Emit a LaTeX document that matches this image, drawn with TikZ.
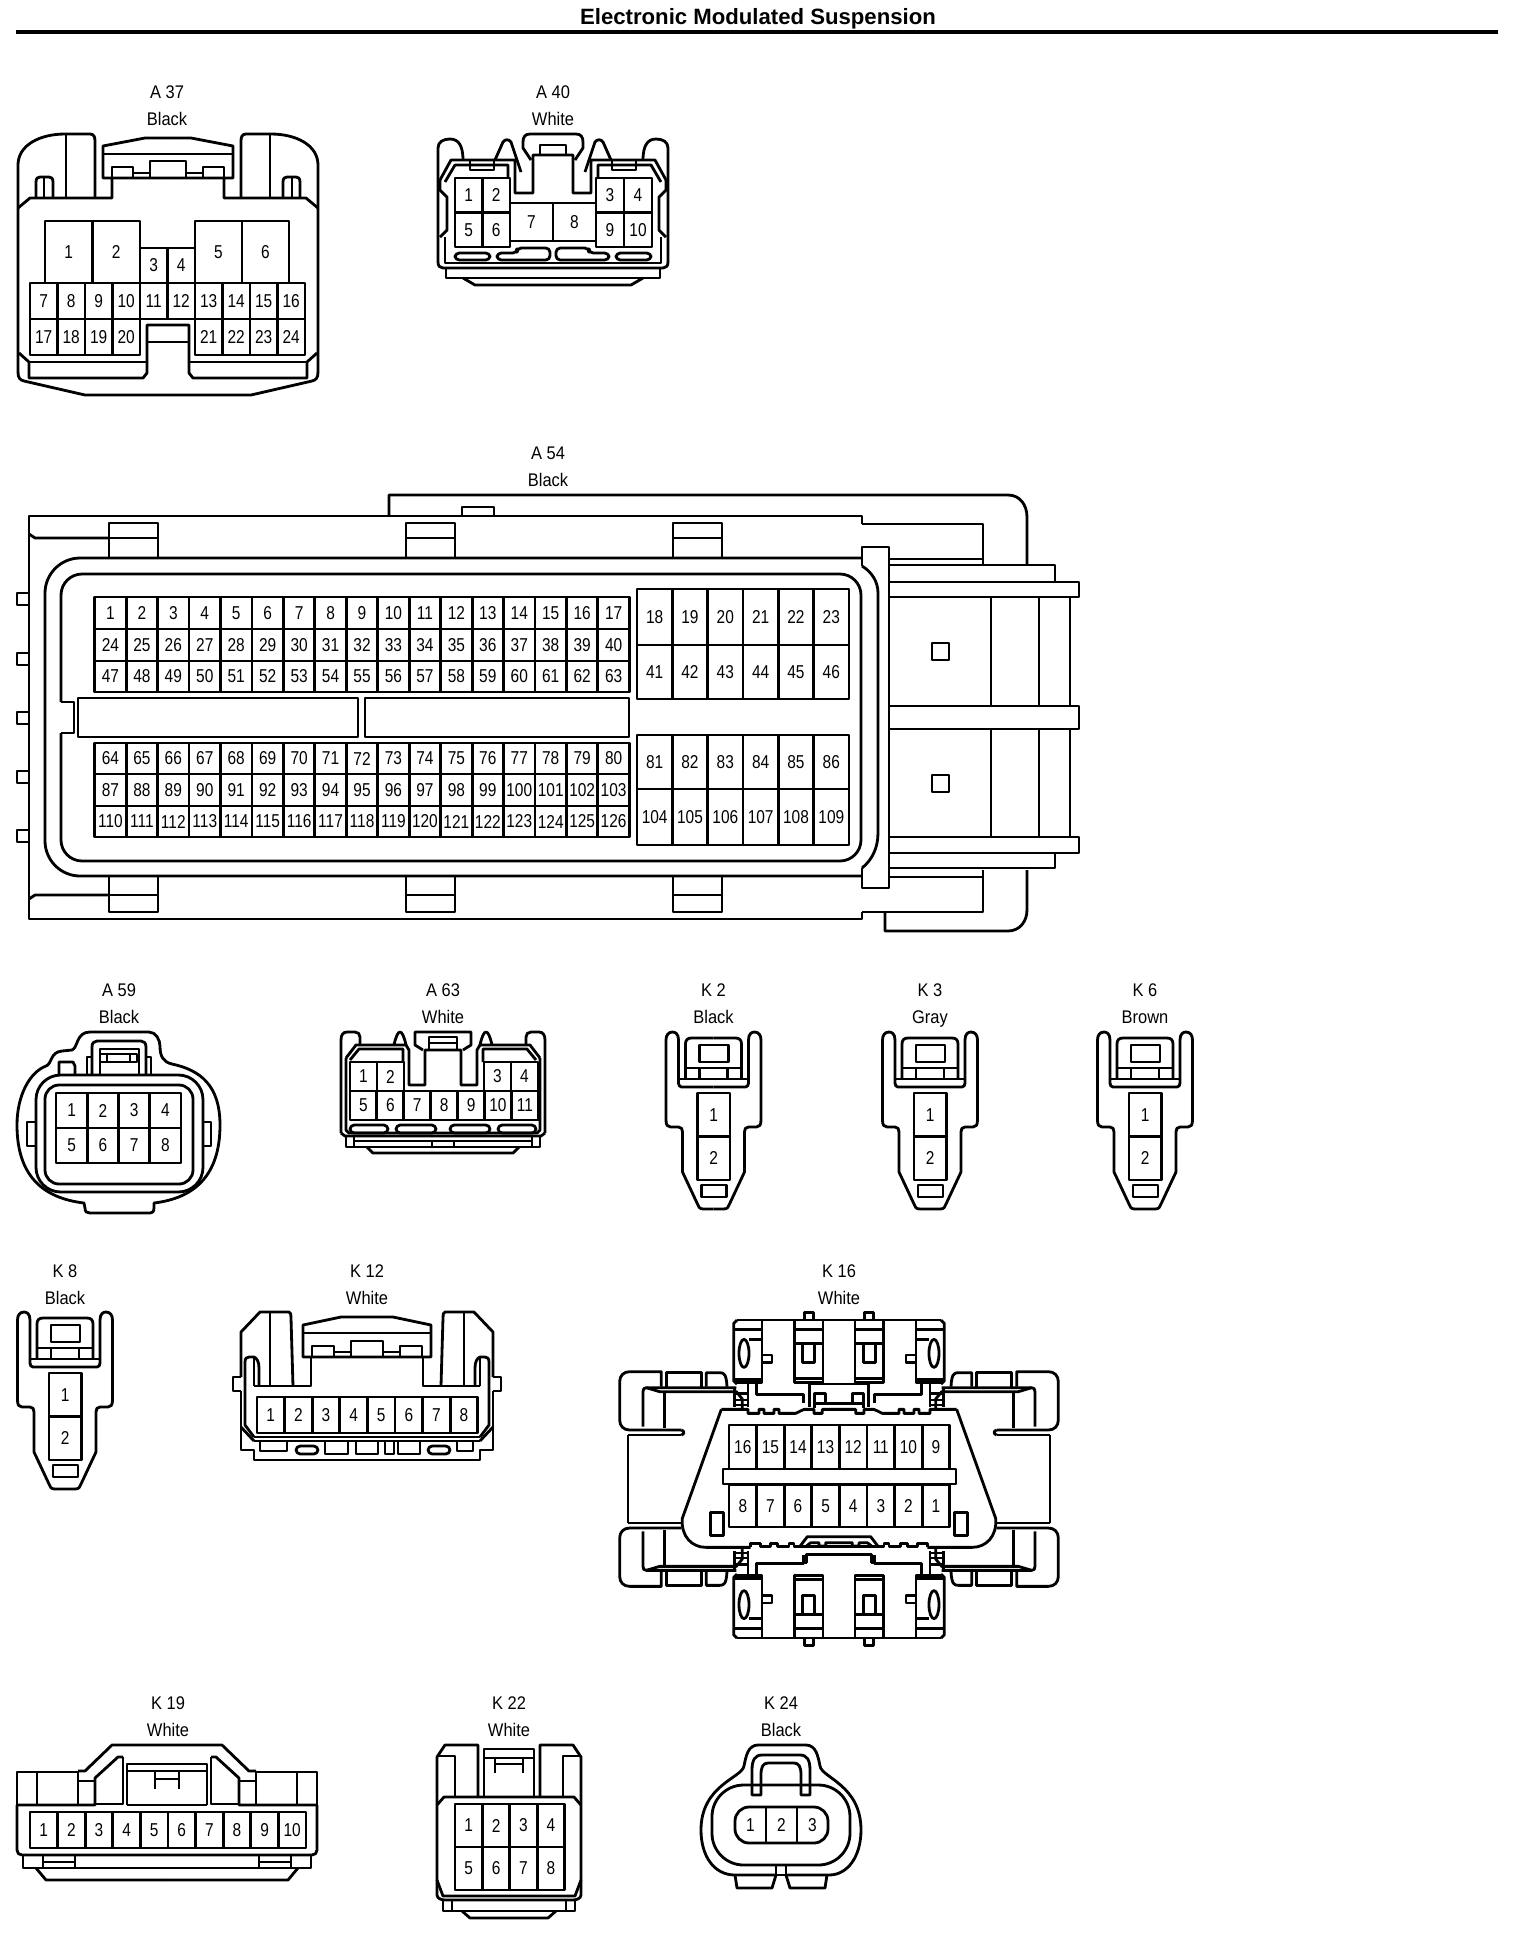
\documentclass[tikz,border=0pt]{standalone}
\usepackage{fontspec}
\setmainfont{Liberation Sans}
\newfontfamily\pinfont[FakeStretch=0.83]{Liberation Sans}
\newfontfamily\namefont[FakeStretch=0.9]{Liberation Sans}
\tikzset{
  pin/.style={draw,inner sep=0pt,outer sep=0pt,font=\pinfont\fontsize{5.3pt}{6pt}\selectfont},
  conname/.style={inner sep=0pt,text height=4.5pt,text depth=1pt,font=\namefont\fontsize{5.2pt}{6pt}\selectfont},
  slot/.style={rounded corners=1.2pt},
}
% row of pins: prefix, left, top, cell width, cell height, labels
\newcommand{\pinrow}[6]{%
  \foreach \p [count=\i] in {#6} {
    \node[pin,minimum width=#4*0.01cm,minimum height=#5*0.01cm] (#1\p) at ({#2+(\i-0.5)*#4},{#3+0.5*#5}) {\p};
  }}
% connector name and colour
\newcommand{\conhead}[5]{%
  \node[conname] (#1name) at (#2,#3) {#4};
  \node[conname] (#1col) at (#2,#3+27) {#5};}
\tikzset{
  twoway/.pic={
    \foreach \m in {1,-1} {
      \begin{scope}[xscale=\m]
        \draw (-35,47) -- (-35,8) .. controls (-35,2) and (-38,0) .. (-41,0) .. controls (-45,0) and (-47.5,3) .. (-47.5,8)
          -- (-47.5,88) .. controls (-47.5,93) and (-46,95) .. (-43,95) -- (-35,95) .. controls (-32,95) and (-31,97) .. (-31,100)
          -- (-31,140) -- (-16,172) .. controls (-15,175) and (-14,177) .. (-10,177) -- (0,177);
        \draw (-28,47) -- (-28,12) .. controls (-28,8) and (-26,6) .. (-22,6) -- (0,6);
        \draw (-14,36) -- (-14,47);
        \draw (-35,47) -- (-35,51) .. controls (-35,53) and (-34,55) .. (-32,55) -- (0,55);
      \end{scope}
    }
    \draw (-28,36) -- (28,36);
    \draw (-35,47) -- (35,47);
    \draw (-14,13) rectangle (15,30);
    \draw (-12,153) rectangle (13,165);
    \pinrow{p}{-16}{61}{32.5}{43.5}{1}
    \pinrow{p}{-16}{104.5}{32.5}{43.5}{2}
  }
}
\begin{document}
\begin{tikzpicture}[x=0.01cm,y=-0.01cm,line width=0.8pt,line join=round]
\useasboundingbox (0,0) rectangle (1520,1938);

\node[inner sep=0pt,font=\bfseries\fontsize{6.3pt}{7pt}\selectfont] (title) at (758,19) {Electronic Modulated Suspension};
\coordinate (rulel) at (16,32);
\coordinate (ruler) at (1498,32);
\draw[line width=1.15pt] (rulel) -- (ruler);

% A37
\conhead{a37}{167}{92}{A 37}{Black}
\foreach \m in {1,-1} {
  \begin{scope}[shift={(168,0)},xscale=\m]
    \draw (-150,372) -- (-150,165) .. controls (-150,145) and (-128,134) .. (-103,134) -- (-78,134) .. controls (-74,134) and (-73,137) .. (-73,141) -- (-73,198);
    \draw (-102,134) -- (-102,198);
    \draw (-150,208) -- (-138,198) -- (-56,198) -- (-56,178);
    \draw (-132,198) -- (-132,182) .. controls (-132,178) and (-130,177) .. (-128,177) -- (-119,177) .. controls (-117,177) and (-115,178) .. (-115,182) -- (-115,198);
    \draw (-124,177) -- (-124,198);
    \draw (0,138) -- (-23,138) -- (-65,146) -- (-65,178) -- (0,178);
    \draw (-65,154) -- (0,154);
    \draw (-56,178) -- (-56,167) -- (-35,167) -- (-35,178);
    \draw (-35,173) -- (-18,173);
    \draw (-18,178) -- (-18,161) -- (0,161);
    \draw (-150,372) .. controls (-150,378) and (-148,380) .. (-144,381) -- (-83,395) -- (0,395);
    \draw (-149,353) -- (-139,362) -- (-139,378) -- (-25,378) -- (-21,373) -- (-21,325) -- (0,325);
    \draw (-139,362) -- (-21,362);
    \draw (-21,342) -- (0,342);
  \end{scope}
}
\pinrow{a37p}{45}{221}{47.5}{62}{1,2}
\pinrow{a37p}{195}{221}{47}{62}{5,6}
\pinrow{a37p}{140}{248}{27.5}{35}{3,4}
\pinrow{a37p}{30}{283}{27.5}{36}{7,8,9,10,11,12,13,14,15,16}
\pinrow{a37p}{30}{319}{27.5}{36}{17,18,19,20}
\pinrow{a37p}{195}{319}{27.5}{36}{21,22,23,24}

% A40
\conhead{a40}{553}{92}{A 40}{White}
\foreach \m in {1,-1} {
  \begin{scope}[shift={(553,0)},xscale=\m]
    \draw (-115,262) -- (-115,148) .. controls (-115,142) and (-110,139) .. (-103,139) .. controls (-95,139) and (-90,145) .. (-90,160);
    \draw (-58,160) -- (-50,142) .. controls (-48,139) and (-44,139) .. (-42,142) -- (-32,172);
    \draw (-113,180) -- (-102,160) -- (-38,160) -- (-38,193) -- (-20,193) -- (-20,155) -- (0,155);
    \draw (-108,182) -- (-98,165) -- (-45,165) -- (-45,178);
    \draw (-83,160) -- (-83,170) -- (-59,170) -- (-59,160);
    \draw (0,134) -- (-23,134) .. controls (-28,134) and (-30,137) .. (-30,142) -- (-30,148) -- (-22,160);
    \draw (-13,155) -- (-13,145) -- (0,145);
    \draw (-113,180) -- (-113,190) -- (-106,197) -- (-106,230) -- (-113,237);
    \draw (-108,237) -- (-108,263) -- (0,263);
    \draw (-115,262) .. controls (-115,266) and (-113,268) .. (-110,268) -- (0,268);
    \draw (-107,268) -- (-107,278) -- (0,278);
    \draw (-90,278) -- (-78,285) -- (0,285);
    \draw[slot] (-98,253) rectangle (-63,260);
    \draw[slot] (-56,253) -- (-56,260) -- (-3,260) -- (-3,248) -- (-36,248) -- (-36,253) -- cycle;
  \end{scope}
}
\pinrow{a40p}{455}{178}{27.5}{34.5}{1,2}
\pinrow{a40p}{455}{212.5}{27.5}{34.5}{5,6}
\pinrow{a40p}{596}{178}{28}{34.5}{3,4}
\pinrow{a40p}{596}{212.5}{28}{34.5}{9,10}
\pinrow{a40p}{510}{203}{43}{38}{7,8}

% A54
\conhead{a54}{548}{453}{A 54}{Black}
\draw (862,524) -- (862,516) -- (29,516) -- (29,919) -- (862,919) -- (862,912);
\draw (389,516) -- (389,495) -- (1008,495) .. controls (1020,495) and (1027,505) .. (1027,517) -- (1027,565);
\draw (462,516) -- (462,507) -- (494,507) -- (494,516);
\draw (862,524) -- (983,524) -- (983,565);
\draw (889,559) -- (983,559);
\draw (885,912) -- (885,931) -- (1008,931) .. controls (1020,931) and (1027,921) .. (1027,910) -- (1027,870);
\draw (862,912) -- (983,912) -- (983,870);
\draw (889,877) -- (983,877);
\draw[rounded corners=10pt] (862,558) -- (45,558) -- (45,876) -- (862,876);
\draw[rounded corners=6pt] (61,702) -- (61,574) -- (861,574) -- (861,861) -- (61,861) -- (61,733);
\draw (61,702) -- (74,702) -- (74,733) -- (61,733);
\draw (78,698) rectangle (358,737);
\draw (365,698) rectangle (629,737);
\foreach \y in {593,653,712,771,830} {
  \draw (29,\y) -- (17,\y) -- (17,\y+12) -- (29,\y+12);
}
\foreach \x in {109,406,673} {
  \draw (\x,558) -- (\x,523) -- (\x+49,523) -- (\x+49,558);
  \draw (\x,538) -- (\x+49,538);
  \draw (\x,876) -- (\x,912) -- (\x+49,912) -- (\x+49,876);
  \draw (\x,895) -- (\x+49,895);
}
\draw (29,534) -- (35,538) -- (109,538);
\draw (29,899) -- (35,895) -- (109,895);
\draw (862,566) -- (862,547) -- (889,547) -- (889,888) -- (862,888) -- (862,868);
\draw (862,566) .. controls (872,572) and (878,582) .. (878,593) -- (878,833) .. controls (878,848) and (872,860) .. (862,868);
\draw (889,565) -- (1055,565) -- (1055,582);
\draw (889,582) -- (1079,582) -- (1079,597) -- (889,597);
\draw (889,706) -- (1079,706) -- (1079,729) -- (889,729);
\draw (889,837) -- (1079,837) -- (1079,853) -- (889,853);
\draw (1055,853) -- (1055,868) -- (889,868);
\foreach \x in {991,1039,1070} {
  \draw (\x,597) -- (\x,706);
  \draw (\x,729) -- (\x,837);
}
\draw (932,643) rectangle (949,660);
\draw (932,775) rectangle (949,792);
\pinrow{a54p}{94.7}{597}{31.45}{32}{1,2,3,4,5,6,7,8,9,10,11,12,13,14,15,16,17}
\pinrow{a54p}{94.7}{629}{31.45}{32}{24,25,26,27,28,29,30,31,32,33,34,35,36,37,38,39,40}
\pinrow{a54p}{94.7}{661}{31.45}{31}{47,48,49,50,51,52,53,54,55,56,57,58,59,60,61,62,63}
\pinrow{a54p}{94.7}{743}{31.45}{31}{64,65,66,67,68,69,70,71,72,73,74,75,76,77,78,79,80}
\pinrow{a54p}{94.7}{774}{31.45}{32}{87,88,89,90,91,92,93,94,95,96,97,98,99,100,101,102,103}
\pinrow{a54p}{94.7}{806}{31.45}{31}{110,111,112,113,114,115,116,117,118,119,120,121,122,123,124,125,126}
\pinrow{a54p}{637}{589}{35.33}{56}{18,19,20,21,22,23}
\pinrow{a54p}{637}{645}{35.33}{54}{41,42,43,44,45,46}
\pinrow{a54p}{637}{735}{35.33}{54}{81,82,83,84,85,86}
\pinrow{a54p}{637}{789}{35.33}{56}{104,105,106,107,108,109}

% A59
\conhead{a59}{119}{990}{A 59}{Black}
\draw (90,1032) -- (149,1032) .. controls (156,1032) and (160,1040) .. (160,1046) .. controls (160,1056) and (163,1062) .. (172,1064)
  .. controls (200,1070) and (220,1085) .. (220,1125) .. controls (220,1175) and (195,1198) .. (154,1203)
  -- (154,1208) .. controls (154,1212) and (152,1213) .. (150,1213) -- (90,1213) .. controls (87,1213) and (85,1212) .. (85,1208) -- (84,1203)
  .. controls (42,1198) and (17,1175) .. (17,1125) .. controls (17,1095) and (30,1072) .. (46,1066) .. controls (52,1064) and (50,1052) .. (62,1051) -- (72,1050)
  .. controls (78,1048) and (76,1032) .. (90,1032) -- cycle;
\draw[rounded corners=7pt] (36,1075) rectangle (203,1192);
\draw[rounded corners=4pt] (45,1085) rectangle (193,1184);
\draw (92,1075) -- (92,1047) .. controls (92,1043) and (94,1041) .. (97,1041) -- (141,1041) .. controls (144,1041) and (146,1043) .. (146,1047) -- (146,1075);
\draw (100,1075) -- (100,1049) -- (139,1049) -- (139,1075);
\draw (100,1054) rectangle (137,1062);
\draw (107,1054) -- (107,1062);
\draw (130,1054) -- (130,1062);
\draw (87,1075) -- (87,1057) -- (92,1057);
\draw (146,1057) -- (151,1057) -- (151,1075);
\draw (59,1075) -- (59,1062) -- (73,1062) -- (75,1066) -- (75,1075);
\draw (36,1122) -- (27,1122) -- (27,1146) -- (36,1146);
\draw (203,1122) -- (211,1122) -- (211,1146) -- (203,1146);
\pinrow{a59p}{56}{1093}{31.25}{35}{1,2,3,4}
\pinrow{a59p}{56}{1128}{31.25}{35}{5,6,7,8}

% A63
\conhead{a63}{443}{990}{A 63}{White}
\foreach \m in {1,-1} {
  \begin{scope}[shift={(443,0)},xscale=\m]
    \draw (-102,1133) -- (-102,1040) .. controls (-102,1035) and (-100,1032) .. (-96,1032) -- (-88,1032) .. controls (-85,1032) and (-83,1034) .. (-83,1037) -- (-83,1045);
    \draw (-49,1045) .. controls (-47,1036) and (-45,1032) .. (-43,1032) .. controls (-41,1032) and (-39,1036) .. (-37,1045);
    \draw (-97,1058) -- (-87,1045) -- (-37,1045) -- (-34,1050) -- (-34,1085) -- (-18,1085) -- (-18,1050) -- (0,1050);
    \draw (-93,1060) -- (-84,1049) -- (-40,1049) -- (-40,1062);
    \draw (0,1032) -- (-28,1032) -- (-28,1045) -- (-20,1050);
    \draw (-14,1050) -- (-14,1037) -- (0,1037);
    \draw (-14,1043) -- (0,1043);
    \draw (-97,1058) -- (-97,1130) -- (-94,1133) -- (0,1133);
    \draw (-102,1133) -- (-98,1136) -- (0,1136);
    \draw (-97,1136) -- (-97,1147) -- (0,1147);
    \draw (-89,1136) -- (-89,1147);
    \draw (-89,1141) -- (0,1141);
    \draw (-11,1141) -- (-11,1147);
    \draw (-76,1147) -- (-70,1153) -- (0,1153);
    \draw[slot] (-93,1125) rectangle (-55,1133);
    \draw[slot] (-47,1125) rectangle (-7,1133);
  \end{scope}
}
\pinrow{a63p}{350}{1062}{27}{29}{1,2}
\pinrow{a63p}{484}{1062}{27}{29}{3,4}
\pinrow{a63p}{350}{1091}{26.9}{29}{5,6,7,8,9,10,11}

% K2 K3 K6 K8
\conhead{k2}{713.5}{990}{K 2}{Black}
\conhead{k3}{930}{990}{K 3}{Gray}
\conhead{k6}{1145}{990}{K 6}{Brown}
\conhead{k8}{65}{1271.5}{K 8}{Black}
\pic (ktwo) at (713.5,1032) {twoway};
\pic (kthree) at (930,1032) {twoway};
\pic (ksix) at (1145,1032) {twoway};
\pic (keight) at (65,1312) {twoway};

% K12
\conhead{k12}{367}{1271.5}{K 12}{White}
\foreach \m in {1,-1} {
  \begin{scope}[shift={(367,0)},xscale=\m]
    \draw (-126,1377) -- (-126,1332) -- (-107,1312) -- (-78,1312) .. controls (-76,1312) and (-76,1315) .. (-76,1318) -- (-74,1386);
    \draw (-97,1312) -- (-97,1386);
    \draw (0,1317) -- (-26,1317) -- (-64,1325) -- (-64,1357) -- (0,1357);
    \draw (-64,1333) -- (0,1333);
    \draw (-55,1357) -- (-55,1346) -- (-33,1346) -- (-33,1357);
    \draw (-33,1352) -- (-16,1352);
    \draw (-16,1357) -- (-16,1341) -- (0,1341);
    \draw (-56,1357) -- (-56,1386) -- (-113,1386);
    \draw (-122,1377) -- (-122,1362) .. controls (-122,1358) and (-120,1357) .. (-118,1357) -- (-113,1357) .. controls (-110,1358) and (-108,1362) .. (-108,1368) -- (-108,1386);
    \draw (-113,1357) -- (-113,1386);
    \draw (-126,1377) -- (-134,1377) -- (-134,1391) -- (-126,1391);
    \draw (-126,1391) -- (-126,1450) -- (-113,1450) -- (-113,1460) -- (0,1460);
    \draw (-126,1427) -- (-113,1441);
    \draw (-122,1377) -- (-122,1425) -- (-113,1437);
    \draw (-113,1437) -- (0,1437);
    \draw (-113,1441) -- (0,1441);
  \end{scope}
}
\pinrow{k12p}{257}{1397}{27.6}{36}{1,2,3,4,5,6,7,8}
\draw (260,1441) -- (260,1451) -- (287,1451) -- (287,1441);
\draw[slot] (296,1446) rectangle (318,1454);
\draw (325,1441) -- (325,1454) -- (348,1454) -- (348,1441);
\draw (356,1441) -- (356,1454) -- (378,1454) -- (378,1441);
\draw (385,1441) -- (385,1454) -- (394,1454) -- (394,1441);
\draw (398,1441) -- (398,1454) -- (420,1454) -- (420,1441);
\draw[slot] (428,1446) rectangle (450,1454);
\draw (457,1441) -- (457,1451) -- (473,1451) -- (473,1441);

% K16
\conhead{k16}{839}{1271.5}{K 16}{White}
\foreach \mx in {1,-1} {
  \foreach \my in {1,-1} {
    \begin{scope}[shift={(839,1479)},xscale=\mx/3,yscale=\my/3]
      \draw (-306,-477) -- (0,-477);
      \draw (-306,-477) -- (-316,-467) -- (-316,-295) -- (-306,-285);
      \draw (-231,-477) -- (-231,-289) -- (-310,-289);
      \draw (-316,-449) -- (-231,-449);
      \draw (-316,-299) -- (-231,-299);
      \draw (-285,-377) ellipse [x radius=15,y radius=42];
      \draw (-270,-419) -- (-231,-419);
      \draw (-231,-372) -- (-201,-372) -- (-201,-349) -- (-231,-349);
      \draw (-133,-477) -- (-133,-289) -- (-48,-289) -- (-48,-477);
      \draw (-133,-449) -- (-48,-449);
      \draw (-133,-407) -- (-48,-407);
      \draw (-133,-302) -- (-48,-302);
      \draw (-110,-407) -- (-110,-349) -- (-73,-349) -- (-73,-407);
      \draw (-103,-477) -- (-103,-499) -- (-76,-499) -- (-76,-477);
      \draw (-533,-277) -- (-533,-322) -- (-628,-322) .. controls (-646,-322) and (-658,-310) .. (-658,-292) -- (-658,-177) .. controls (-658,-159) and (-646,-147) .. (-628,-147) -- (-473,-147);
      \draw (-518,-277) -- (-518,-319) -- (-413,-319) -- (-413,-277);
      \draw (-398,-277) -- (-398,-319) -- (-358,-319) .. controls (-345,-319) and (-338,-315) .. (-336,-277);
      \draw (-588,-157) -- (-588,-262) .. controls (-588,-270) and (-585,-274) .. (-578,-274) -- (-308,-274);
      \draw (-578,-274) -- (-538,-262) -- (-308,-262) -- (-290,-240) -- (-290,-209);
      \draw (-523,-262) -- (-523,-152);
      \draw (-313,-272) -- (-313,-217);
      \draw (-273,-285) -- (-273,-217);
      \draw (-313,-257) -- (-273,-257);
      \draw (-313,-237) -- (-273,-237);
      \draw (-313,-222) -- (-273,-222);
      \draw (-248,-285) -- (-248,-254) -- (-107,-254) -- (-107,-227);
      \draw (-633,-132) -- (-633,0);
      \draw (-633,-132) -- (-473,-132);
    \end{scope}
  }
}
\foreach \m in {1,-1} {
  \begin{scope}[shift={(839,1260)},xscale=\m/3,yscale=1/3]
    \draw (-473,510) .. controls (-463,512) and (-463,523) .. (-473,525);
    \fill[white] (0,448) -- (-353,448) -- (-470,775) .. controls (-475,830) and (-440,862) .. (-400,862) -- (0,862) -- cycle;
    \draw (-353,448) -- (-470,775) .. controls (-475,830) and (-440,862) .. (-400,862) -- (-265,862);
    \draw (-353,448) -- (-273,448) -- (-273,460) -- (-240,460) -- (-240,448) -- (-225,448) -- (-225,460) -- (-195,460) -- (-195,448) -- (-180,448) -- (-180,460) -- (-130,460) -- (-105,448) -- (-75,448) -- (-75,460) -- (-50,460) -- (-50,448) -- (0,448);
    \draw (-265,862) -- (-265,850) -- (-235,850) -- (-235,860) -- (-205,860) -- (-205,850) -- (-185,850) -- (-185,860) -- (-150,860) -- (-150,850) -- (-135,850) -- (-135,860) -- (-118,860);
    \draw (-118,860) -- (-95,830) -- (0,830);
    \draw (-100,860) -- (-85,848) -- (-60,848) -- (-60,858) -- (-40,858) -- (-40,848) -- (0,848);
    \draw (-118,860) -- (-100,860) -- (0,860);
    \draw (0,372) -- (-88,372) -- (-88,440);
    \draw (-73,445) -- (-73,400) -- (-40,400) -- (-40,430) -- (0,430);
    \draw (-70,430) -- (-40,430);
    \draw (0,884) -- (-98,884) -- (-98,908) -- (-107,908);
    \draw (-385,757) rectangle (-346,827);
  \end{scope}
}
\pinrow{k16p}{729}{1425}{27.6}{44}{16,15,14,13,12,11,10,9}
\pinrow{k16p}{729}{1485}{27.6}{42}{8,7,6,5,4,3,2,1}
\draw (723,1469) rectangle (956,1484);

% K19
\conhead{k19}{168}{1703}{K 19}{White}
\foreach \m in {1,-1} {
  \begin{scope}[shift={(167,0)},xscale=\m]
    \draw (-150,1805) -- (-150,1772) -- (-89,1772);
    \draw (-130,1772) -- (-130,1805);
    \draw (-89,1772) -- (-89,1805);
    \draw (-150,1805) -- (-72,1805) -- (-72,1778) -- (-49,1757) -- (-44,1757);
    \draw (-89,1771) -- (-82,1771) -- (-55,1745) -- (0,1745);
    \draw (-89,1781) -- (-72,1781);
    \draw (-72,1804) -- (-44,1804) -- (-44,1757);
    \draw (-40,1805) -- (-40,1764) -- (0,1764);
    \draw (-40,1771) -- (0,1771);
    \draw (-12,1771) -- (-12,1789);
    \draw (-150,1805) -- (-150,1850) .. controls (-150,1853) and (-148,1855) .. (-145,1855) -- (0,1855);
    \draw (-144,1855) -- (-144,1868) -- (0,1868);
    \draw (-124,1855) -- (-124,1868);
    \draw (-92,1855) -- (-92,1868);
    \draw (-124,1862) -- (-92,1862);
    \draw (-131,1868) -- (-121,1880) -- (0,1880);
    \draw (-40,1805) -- (0,1805);
  \end{scope}
}
\draw (155,1779) -- (179,1779);
\pinrow{k19p}{30}{1812}{27.6}{36}{1,2,3,4,5,6,7,8,9,10}

% K22
\conhead{k22}{509}{1703}{K 22}{White}
\foreach \m in {1,-1} {
  \begin{scope}[shift={(509,0)},xscale=\m]
    \draw (-72,1805) -- (-72,1757) -- (-64,1745) -- (-31,1745) -- (-31,1796);
    \draw (-72,1756) -- (-54,1756) -- (-54,1796);
    \draw (-25,1796) -- (-25,1749) -- (0,1749);
    \draw (-25,1758) -- (0,1758);
    \draw (-14,1758) -- (-14,1773);
    \draw (-14,1764) -- (0,1764);
    \draw (-72,1805) -- (-65,1797) -- (0,1797);
    \draw (-72,1805) -- (-72,1895) .. controls (-72,1898) and (-68,1900) .. (-64,1900) -- (0,1900);
    \draw (-72,1880) -- (-66,1896) -- (0,1896);
    \draw (-66,1900) -- (-66,1911) -- (0,1911);
    \draw (-57,1900) -- (-57,1911);
    \draw (-47,1911) -- (-39,1918) -- (0,1918);
  \end{scope}
}
\pinrow{k22p}{455}{1804}{27.4}{43}{1,2,3,4}
\pinrow{k22p}{455}{1847}{27.4}{43}{5,6,7,8}

% K24
\conhead{k24}{781}{1703}{K 24}{Black}
\draw (758,1745) -- (806,1745) .. controls (816,1745) and (818,1756) .. (820,1766) .. controls (822,1778) and (861,1785) .. (861,1830) .. controls (861,1856) and (848,1875) .. (829,1875) -- (786,1875);
\draw (758,1745) .. controls (748,1745) and (746,1756) .. (744,1766) .. controls (742,1778) and (701,1785) .. (701,1830) .. controls (701,1856) and (714,1875) .. (735,1875) -- (776,1875);
\draw[rounded corners=9pt] (712,1785) rectangle (850,1865);
\draw (752,1795) -- (752,1770) .. controls (752,1760) and (755,1755) .. (762,1755) -- (800,1755) .. controls (807,1755) and (810,1760) .. (810,1770) -- (810,1795) -- (801,1795) -- (801,1775) .. controls (801,1767) and (799,1763) .. (794,1763) -- (768,1763) .. controls (763,1763) and (761,1767) .. (761,1775) -- (761,1795) -- cycle;
\begin{scope}[pin/.append style={draw=none}]
  \pinrow{k24p}{735}{1807}{31}{36}{1,2,3}
\end{scope}
\draw[rounded corners=4pt] (735,1807) rectangle (828,1843);
\draw (766,1807) -- (766,1843);
\draw (797,1807) -- (797,1843);
\draw (776,1865) -- (776,1875) -- (786,1875) -- (786,1865);
\draw (735,1875) -- (737,1888) -- (772,1888) -- (776,1875);
\draw (786,1875) -- (790,1888) -- (825,1888) -- (827,1875);

\end{tikzpicture}
\end{document}
